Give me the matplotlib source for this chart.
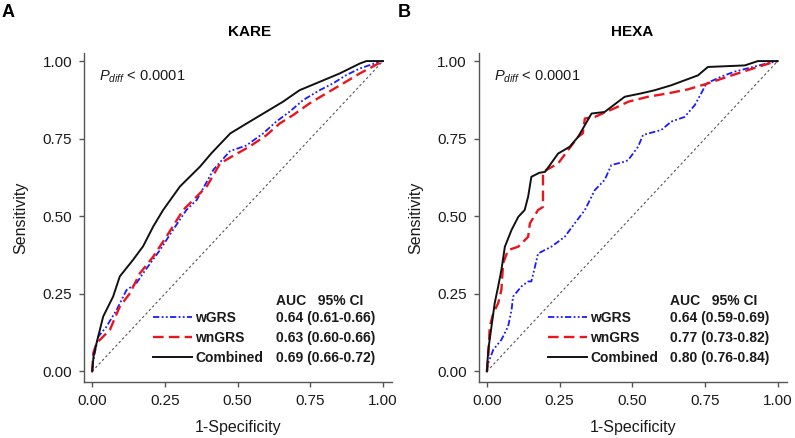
import matplotlib
matplotlib.use("Agg")
import matplotlib.pyplot as plt
from matplotlib.font_manager import FontProperties

plt.rcParams['font.family'] = ['Liberation Sans', 'DejaVu Sans']
plt.rcParams['mathtext.fontset'] = 'custom'
plt.rcParams['mathtext.it'] = 'Liberation Sans:italic'
plt.rcParams['mathtext.rm'] = 'Liberation Sans'

# ---------------- data ----------------
panel_letters = ["A", "B"]
panel_titles = ["KARE", "HEXA"]
series_names = ["wGRS", "wnGRS", "Combined"]
auc_kare = ["0.64 (0.61-0.66)", "0.63 (0.60-0.66)", "0.69 (0.66-0.72)"]
auc_hexa = ["0.64 (0.59-0.69)", "0.77 (0.73-0.82)", "0.80 (0.76-0.84)"]
ticks = [0.0, 0.25, 0.5, 0.75, 1.0]
tick_labels = ["0.00", "0.25", "0.50", "0.75", "1.00"]

kare_comb_x = [0, 0.005, 0.015, 0.038, 0.072, 0.095, 0.141, 0.175, 0.21, 0.244, 0.302, 0.371, 0.41,
               0.475, 0.542, 0.599, 0.656, 0.713, 0.782, 0.851, 0.92, 0.943, 1.0]
kare_comb_y = [0, 0.05, 0.091, 0.177, 0.241, 0.306, 0.36, 0.403, 0.467, 0.52, 0.596, 0.66, 0.703,
               0.767, 0.805, 0.837, 0.869, 0.906, 0.933, 0.96, 0.992, 1.0, 1.0]
kare_wgrs_x = [0, 0.004, 0.021, 0.049, 0.084, 0.118, 0.152, 0.175, 0.233, 0.278, 0.324, 0.36, 0.417,
               0.474, 0.53, 0.588, 0.633, 0.679, 0.725, 0.782, 0.828, 0.874, 0.92, 0.989, 1.0]
kare_wgrs_y = [0, 0.037, 0.112, 0.144, 0.198, 0.262, 0.284, 0.316, 0.391, 0.456, 0.52, 0.553, 0.65,
               0.71, 0.728, 0.767, 0.805, 0.837, 0.874, 0.906, 0.928, 0.955, 0.976, 0.998, 1.0]
kare_wngrs_x = [0, 0.004, 0.015, 0.061, 0.095, 0.13, 0.164, 0.21, 0.255, 0.313, 0.394, 0.44, 0.485,
                0.542, 0.599, 0.645, 0.691, 0.748, 0.805, 0.863, 0.92, 1.0]
kare_wngrs_y = [0, 0.059, 0.091, 0.134, 0.209, 0.252, 0.316, 0.37, 0.434, 0.52, 0.596, 0.67, 0.695,
                0.725, 0.761, 0.799, 0.826, 0.864, 0.896, 0.928, 0.96, 1.0]

hexa_comb_x = [0, 0.005, 0.016, 0.027, 0.039, 0.05, 0.062, 0.085, 0.108, 0.13, 0.142, 0.153, 0.18,
               0.2, 0.245, 0.285, 0.314, 0.36, 0.405, 0.474, 0.531, 0.577, 0.634, 0.68, 0.726, 0.76,
               0.887, 0.932, 1.0]
hexa_comb_y = [0, 0.07, 0.145, 0.22, 0.274, 0.327, 0.402, 0.456, 0.498, 0.52, 0.563, 0.627, 0.64,
               0.643, 0.702, 0.724, 0.756, 0.831, 0.836, 0.885, 0.896, 0.906, 0.922, 0.938, 0.954,
               0.981, 0.986, 1.0, 1.0]
hexa_wngrs_x = [0, 0.005, 0.01, 0.022, 0.039, 0.05, 0.056, 0.073, 0.108, 0.142, 0.148, 0.176, 0.193,
                0.193, 0.245, 0.279, 0.314, 0.33, 0.337, 0.371, 0.451, 0.486, 0.554, 0.623, 0.692,
                0.76, 0.829, 0.898, 0.99, 1.0]
hexa_wngrs_y = [0, 0.048, 0.145, 0.187, 0.22, 0.263, 0.349, 0.391, 0.402, 0.434, 0.477, 0.52, 0.53,
                0.643, 0.67, 0.713, 0.756, 0.767, 0.815, 0.82, 0.853, 0.869, 0.885, 0.896, 0.909,
                0.928, 0.95, 0.971, 0.998, 1.0]
hexa_wgrs_x = [0, 0.005, 0.022, 0.05, 0.073, 0.085, 0.09, 0.119, 0.142, 0.153, 0.171, 0.176, 0.222,
               0.268, 0.302, 0.337, 0.371, 0.405, 0.428, 0.474, 0.486, 0.52, 0.537, 0.6, 0.634, 0.68,
               0.715, 0.737, 0.755, 0.806, 0.852, 0.944, 1.0]
hexa_wgrs_y = [0, 0.027, 0.07, 0.102, 0.145, 0.198, 0.241, 0.274, 0.29, 0.29, 0.359, 0.38, 0.402,
               0.434, 0.477, 0.52, 0.584, 0.617, 0.665, 0.676, 0.681, 0.724, 0.762, 0.778, 0.805,
               0.82, 0.858, 0.896, 0.928, 0.95, 0.966, 0.988, 1.0]

ref_line = [0.0, 1.0]

panels = [
    dict(letter=panel_letters[0], title=panel_titles[0], auc=auc_kare,
         series=[(kare_wgrs_x, kare_wgrs_y), (kare_wngrs_x, kare_wngrs_y), (kare_comb_x, kare_comb_y)]),
    dict(letter=panel_letters[1], title=panel_titles[1], auc=auc_hexa,
         series=[(hexa_wgrs_x, hexa_wgrs_y), (hexa_wngrs_x, hexa_wngrs_y), (hexa_comb_x, hexa_comb_y)]),
]

styles = [
    dict(color="#1a1aff", lw=1.3, ls=(0, (3.5, 1.3, 1, 1.3, 1, 1.3))),
    dict(color="#e8161e", lw=1.7, ls=(0, (4.5, 2.2))),
    dict(color="#111111", lw=1.4, ls="-"),
]

W, H = 795, 438
fig = plt.figure(figsize=(W / 100, H / 100), dpi=100)

axes_left_px = [84, 478.7]
ax_w_px = 308
ax_bottom_px = 382
ax_top_px = 53

bold10 = FontProperties(family=['Liberation Sans', 'DejaVu Sans'], weight='bold', size=10)

for i, p in enumerate(panels):
    l = axes_left_px[i] / W
    b = (H - ax_bottom_px) / H
    ax = fig.add_axes([l, b, ax_w_px / W, (ax_bottom_px - ax_top_px) / H])
    ax.plot(ref_line, ref_line, color="#555555", lw=0.8, ls=(0, (2.2, 2.2)))
    handles = []
    for (xs, ys), st in zip(p["series"], styles):
        h, = ax.plot(xs, ys, color=st["color"], lw=st["lw"], linestyle=st["ls"])
        handles.append(h)
    ax.set_xlim(-0.028, 1.031)
    ax.set_ylim(-0.034, 1.026)
    ax.set_xticks(ticks)
    ax.set_xticklabels(tick_labels)
    ax.set_yticks(ticks)
    ax.set_yticklabels(tick_labels)
    for s in ["top", "right"]:
        ax.spines[s].set_visible(False)
    for s in ["left", "bottom"]:
        ax.spines[s].set_color("#555555")
        ax.spines[s].set_linewidth(1.0)
    ax.tick_params(direction="out", length=3.5, width=1.0, color="#555555",
                   labelsize=11, labelcolor="#1a1a1a", pad=5)
    ax.set_xlabel("1-Specificity", fontsize=11.5, labelpad=9, color="#1a1a1a")
    ax.set_ylabel("Sensitivity", fontsize=11.5, labelpad=10, color="#1a1a1a")
    ax.text(0.05, 0.915, r"$P_{diff}$ < 0.0001", transform=ax.transAxes, fontsize=10.5,
            color="#1a1a1a", va="baseline")
    leg = ax.legend(handles, series_names, loc="upper left", bbox_to_anchor=(0.224, 0.215),
                    frameon=False, handlelength=2.8, handletextpad=0.25, labelspacing=0.42,
                    borderaxespad=0, borderpad=0, prop=bold10)
    for t in leg.get_texts():
        t.set_color("#1a1a1a")
    p["ax"] = ax
    p["leg"] = leg

# titles and panel letters
fig.text(250 / W, 1 - 32 / H, panels[0]["title"], ha="center", va="center", fontsize=11, fontweight="bold")
fig.text(632 / W, 1 - 32 / H, panels[1]["title"], ha="center", va="center", fontsize=11, fontweight="bold")
fig.text(2 / W, 1 - 4 / H, panels[0]["letter"], ha="left", va="top", fontsize=13, fontweight="bold")
fig.text(398 / W, 1 - 4 / H, panels[1]["letter"], ha="left", va="top", fontsize=13, fontweight="bold")

fig.canvas.draw()
for p in panels:
    ax, leg = p["ax"], p["leg"]
    inv = ax.transAxes.inverted()
    ys = []
    for t in leg.get_texts():
        bb = t.get_window_extent()
        ys.append(inv.transform(((bb.x0 + bb.x1) / 2, (bb.y0 + bb.y1) / 2))[1])
    for y, val in zip(ys, p["auc"]):
        ax.text(0.622, y, val, transform=ax.transAxes, va="center", ha="left",
                fontproperties=bold10, color="#1a1a1a")
    step = ys[0] - ys[1]
    ax.text(0.622, ys[0] + step * 0.85, "AUC   95% CI", transform=ax.transAxes, va="center",
            ha="left", fontproperties=bold10, color="#1a1a1a")

fig.savefig("out.png", dpi=100)
